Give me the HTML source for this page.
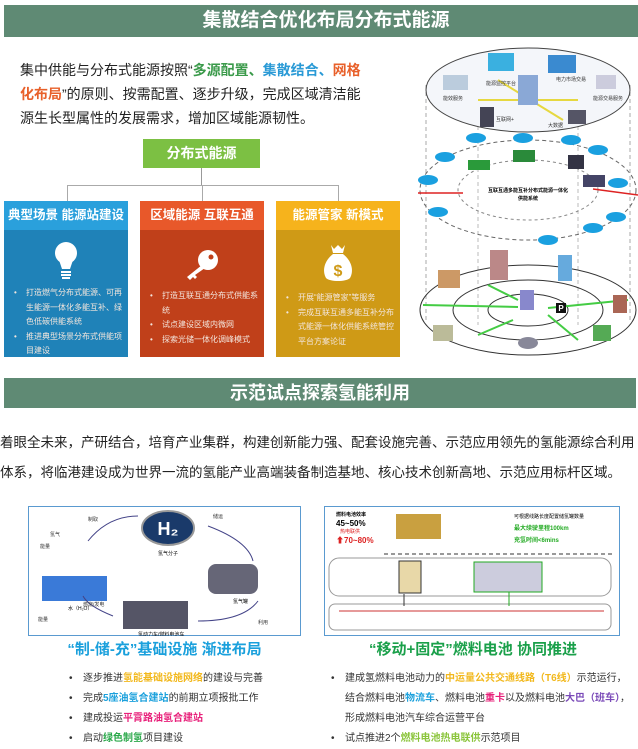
<!DOCTYPE html>
<html><head><meta charset="utf-8">
<style>
*{margin:0;padding:0;box-sizing:border-box}
body{width:638px;height:746px;background:#fff;position:relative;overflow:hidden;font-family:"Liberation Sans","Noto Sans CJK SC",sans-serif;color:#222}
.abs{position:absolute}
.bar{background:#5f8a74;color:#fff;font-weight:bold;text-align:center}
.card{position:absolute;top:201px;width:124px;height:156px;overflow:hidden}
.card .h{height:29px;color:#fff;font-weight:bold;font-size:12.5px;text-align:center;line-height:29px;white-space:nowrap}
.card ul{list-style:none;color:#f3e6dd;font-size:8px;line-height:14.5px;position:absolute;left:8px;right:4px}
.card li{position:relative;padding-left:14px}
.card li:before{content:"•";position:absolute;left:2px}
.bl{list-style:none;font-size:10px;color:#333;position:absolute}
.bl li{position:relative;padding-left:14px;line-height:20px}
.bl li:before{content:"•";position:absolute;left:0}
</style></head><body>

<div class="abs bar" style="left:4px;top:5px;width:634px;height:32px;font-size:19px;line-height:32px;padding-left:10px">集散结合优化布局分布式能源</div>

<div class="abs" style="left:20px;top:58px;width:342px;font-size:14px;line-height:24px;color:#222">集中供能与分布式能源按照“<b style="color:#3a9a4a">多源配置、</b><b style="color:#2a9ad6">集散结合、</b><b style="color:#e8602a">网格化布局</b>”的原则、按需配置、逐步升级，完成区域清洁能源生长型属性的发展需求，增加区域能源韧性。</div>

<div class="abs" style="left:143px;top:139px;width:117px;height:29px;background:#7cc043;color:#fff;font-weight:bold;font-size:14px;text-align:center;line-height:29px">分布式能源</div>
<div class="abs" style="left:201px;top:168px;width:1px;height:17px;background:#999"></div>
<div class="abs" style="left:67px;top:185px;width:272px;height:1px;background:#aaa"></div>
<div class="abs" style="left:67px;top:185px;width:1px;height:16px;background:#aaa"></div>
<div class="abs" style="left:202px;top:185px;width:1px;height:16px;background:#aaa"></div>
<div class="abs" style="left:338px;top:185px;width:1px;height:16px;background:#aaa"></div>

<div class="card" style="left:4px;background:#1f82b8">
 <div class="h" style="background:#2aa0dc">典型场景 能源站建设</div>
 <svg class="abs" style="left:50px;top:40px" width="24" height="42" viewBox="0 0 24 42"><circle cx="12" cy="12" r="11" fill="#fff"/><path d="M5 19 L8 28 H16 L19 19Z" fill="#fff"/><rect x="7" y="30" width="10" height="2" fill="#fff"/><rect x="7" y="33" width="10" height="2" fill="#fff"/><rect x="8" y="36" width="8" height="2" fill="#fff"/></svg>
 <ul style="top:85px"><li>打造燃气分布式能源、可再生能源一体化多能互补、绿色低碳供能系统</li><li>推进典型场景分布式供能项目建设</li></ul>
</div>
<div class="card" style="left:140px;background:#c0401a">
 <div class="h" style="background:#e8582a">区域能源 互联互通</div>
 <svg class="abs" style="left:44px;top:48px" width="36" height="32" viewBox="0 0 36 32"><circle cx="24" cy="11" r="10" fill="#fff"/><circle cx="27" cy="8" r="2.5" fill="#c0401a"/><path d="M18 16 L3 28 L6 31 L9 28 L11 30 L13 28 L11 26 L21 19Z" fill="#fff"/></svg>
 <ul style="top:88px"><li>打造互联互通分布式供能系统</li><li>试点建设区域内微网</li><li>探索光储一体化调峰模式</li></ul>
</div>
<div class="card" style="left:276px;background:#cf9a16">
 <div class="h" style="background:#f6b31c">能源管家 新模式</div>
 <svg class="abs" style="left:46px;top:42px" width="32" height="40" viewBox="0 0 32 40"><path d="M9 2 L12 6 L16 2 L20 6 L23 2 L21 10 H11Z" fill="#fff"/><path d="M11 11 H21 C30 18 32 28 28 35 C24 39 8 39 4 35 C0 28 2 18 11 11Z" fill="#fff"/><text x="16" y="33" text-anchor="middle" font-size="16" font-weight="bold" fill="#cf9a16">$</text></svg>
 <ul style="top:90px"><li>开展“能源管家”等服务</li><li>完成互联互通多能互补分布式能源一体化供能系统管控平台方案论证</li></ul>
</div>

<svg class="abs" style="left:418px;top:45px" width="220" height="315" viewBox="0 0 220 315">
 <line x1="8" y1="40" x2="8" y2="275" stroke="#aaa" stroke-dasharray="4 3"/>
 <line x1="212" y1="40" x2="212" y2="275" stroke="#aaa" stroke-dasharray="4 3"/>
 <line x1="60" y1="60" x2="60" y2="280" stroke="#bbb" stroke-dasharray="4 3"/>
 <line x1="160" y1="60" x2="160" y2="280" stroke="#bbb" stroke-dasharray="4 3"/>
 <ellipse cx="110" cy="45" rx="102" ry="42" fill="#f4f6fa" stroke="#444"/>
 <line x1="60" y1="55" x2="160" y2="55" stroke="#e6d840" stroke-width="2"/>
 <line x1="80" y1="35" x2="145" y2="75" stroke="#e6d840" stroke-width="2"/>
 <rect x="100" y="30" width="20" height="30" fill="#8aa8d6"/>
 <rect x="25" y="30" width="25" height="15" fill="#bcd"/><rect x="70" y="8" width="26" height="18" fill="#3ab0e0"/>
 <rect x="130" y="10" width="28" height="18" fill="#3a8ad0"/><rect x="62" y="62" width="14" height="20" fill="#445"/>
 <rect x="178" y="30" width="20" height="14" fill="#ccd"/><rect x="150" y="65" width="18" height="14" fill="#556"/>
 <text font-size="5" fill="#333"><tspan x="68" y="40">能源监控平台</tspan><tspan x="138" y="36">电力市场交易</tspan><tspan x="25" y="55">能效服务</tspan><tspan x="175" y="55">能源交易服务</tspan><tspan x="78" y="76">互联网+</tspan><tspan x="130" y="82">大数据</tspan></text>
 <ellipse cx="110" cy="145" rx="108" ry="50" fill="none" stroke="#666" stroke-dasharray="4 3"/>
 <ellipse cx="110" cy="145" rx="70" ry="30" fill="none" stroke="#888" stroke-dasharray="3 3"/>
 <line x1="0" y1="148" x2="45" y2="148" stroke="#d22" stroke-width="1.5"/><line x1="175" y1="144" x2="220" y2="150" stroke="#d22" stroke-width="1.5"/>
 <rect x="50" y="115" width="22" height="10" fill="#2a9a3a"/><rect x="95" y="105" width="22" height="12" fill="#2a8a3a"/><rect x="150" y="110" width="16" height="14" fill="#334"/><rect x="165" y="130" width="22" height="12" fill="#446"/>
 <g fill="#1aa0e0"><ellipse cx="27" cy="112" rx="10" ry="5"/><ellipse cx="58" cy="93" rx="10" ry="5"/><ellipse cx="105" cy="93" rx="10" ry="5"/><ellipse cx="153" cy="95" rx="10" ry="5"/><ellipse cx="180" cy="105" rx="10" ry="5"/><ellipse cx="10" cy="135" rx="10" ry="5"/><ellipse cx="200" cy="138" rx="10" ry="5"/><ellipse cx="20" cy="167" rx="10" ry="5"/><ellipse cx="198" cy="172" rx="10" ry="5"/><ellipse cx="130" cy="195" rx="10" ry="5"/><ellipse cx="175" cy="183" rx="10" ry="5"/></g>
 <text x="110" y="147" font-size="5" text-anchor="middle" font-weight="bold">互联互通多能互补分布式能源一体化</text>
 <text x="110" y="155" font-size="5" text-anchor="middle" font-weight="bold">供能系统</text>
 <ellipse cx="110" cy="265" rx="108" ry="45" fill="none" stroke="#333"/>
 <ellipse cx="110" cy="265" rx="75" ry="30" fill="none" stroke="#333"/>
 <ellipse cx="110" cy="265" rx="40" ry="16" fill="none" stroke="#333"/>
 <line x1="5" y1="260" x2="100" y2="262" stroke="#4c4" stroke-width="2"/><line x1="130" y1="263" x2="210" y2="255" stroke="#4c4" stroke-width="2"/>
 <line x1="70" y1="240" x2="100" y2="255" stroke="#4c4" stroke-width="2"/><line x1="130" y1="270" x2="160" y2="295" stroke="#4c4" stroke-width="2"/><line x1="60" y1="290" x2="95" y2="275" stroke="#4c4" stroke-width="2"/>
 <rect x="72" y="205" width="18" height="30" fill="#b88"/><rect x="140" y="210" width="14" height="26" fill="#6ad"/><rect x="20" y="225" width="22" height="18" fill="#c96"/><rect x="195" y="250" width="14" height="18" fill="#a65"/>
 <rect x="102" y="245" width="14" height="20" fill="#88c"/><rect x="138" y="258" width="10" height="10" fill="#111"/><text x="143" y="266" font-size="8" fill="#fff" text-anchor="middle" font-weight="bold">P</text>
 <rect x="15" y="280" width="20" height="16" fill="#bb9"/><rect x="175" y="280" width="18" height="16" fill="#5a5"/><ellipse cx="110" cy="298" rx="10" ry="6" fill="#889"/>
</svg>

<div class="abs bar" style="left:4px;top:378px;width:632px;height:30px;font-size:18px;line-height:30px">示范试点探索氢能利用</div>
<div class="abs" style="left:0;top:428px;width:638px;font-size:13.5px;line-height:30px;color:#222;white-space:nowrap">着眼全未来，产研结合，培育产业集群，构建创新能力强、配套设施完善、示范应用领先的氢能源综合利用<br>体系，将临港建设成为世界一流的氢能产业高端装备制造基地、核心技术创新高地、示范应用标杆区域。</div>

<svg class="abs" style="left:28px;top:506px" width="273" height="130" viewBox="0 0 273 130">
 <rect x="0.5" y="0.5" width="272" height="129" fill="#fff" stroke="#5a9ad0"/>
 <ellipse cx="140" cy="22" rx="26" ry="17" fill="#1a3a6a" stroke="#999" stroke-width="2"/><text x="140" y="29" font-size="18" font-weight="bold" fill="#fff" text-anchor="middle">H₂</text>
 <text x="140" y="49" font-size="5" text-anchor="middle">氢气分子</text>
 <rect x="14" y="70" width="65" height="25" fill="#3a7ad8"/><text x="40" y="104" font-size="5">水（H₂O）</text>
 <rect x="180" y="58" width="50" height="30" fill="#667" rx="8"/><text x="205" y="97" font-size="5">氢气罐</text>
 <rect x="95" y="95" width="65" height="28" fill="#556"/><text x="110" y="130" font-size="5">氢动力车/燃料电池车</text>
 <path d="M60 35 Q80 10 110 10" fill="none" stroke="#448" /><path d="M180 20 Q220 35 225 55" fill="none" stroke="#448"/><path d="M230 95 Q215 115 170 115" fill="none" stroke="#448"/><path d="M85 110 Q60 100 55 90" fill="none" stroke="#448"/>
 <text font-size="5" fill="#333"><tspan x="60" y="15">制取</tspan><tspan x="185" y="12">储运</tspan><tspan x="230" y="118">利用</tspan><tspan x="22" y="30">氢气</tspan><tspan x="12" y="42">能量</tspan><tspan x="10" y="115">能量</tspan><tspan x="55" y="100">燃烧/发电</tspan></text>
</svg>
<svg class="abs" style="left:324px;top:506px" width="296" height="130" viewBox="0 0 296 130">
 <rect x="0.5" y="0.5" width="295" height="129" fill="#fff" stroke="#5a9ad0"/>
 <text x="12" y="10" font-size="5" font-weight="bold">燃料电池效率</text><text x="12" y="20" font-size="8" font-weight="bold">45~50%</text>
 <text x="16" y="27" font-size="5" fill="#d22">热电联供</text><text x="12" y="37" font-size="8" font-weight="bold" fill="#d22">⬆70~80%</text>
 <rect x="72" y="8" width="45" height="25" fill="#c9a040"/>
 <text x="190" y="12" font-size="5">可根据线路长度配置储氢罐数量</text><text x="190" y="24" font-size="6" fill="#2a2" font-weight="bold">最大续驶里程100km</text><text x="190" y="36" font-size="6" fill="#2a2" font-weight="bold">充氢时间&lt;6mins</text>
 <line x1="60" y1="48" x2="290" y2="48" stroke="#333" stroke-dasharray="4 3"/>
 <rect x="5" y="52" width="282" height="38" fill="none" stroke="#999" rx="10"/>
 <rect x="75" y="55" width="22" height="32" fill="#e8d8a8" stroke="#333"/>
 <rect x="150" y="56" width="68" height="30" fill="#ccd" stroke="#2a2"/>
 <rect x="5" y="98" width="282" height="26" fill="none" stroke="#999" rx="6"/>
 <line x1="15" y1="105" x2="280" y2="105" stroke="#c33"/><line x1="80" y1="88" x2="80" y2="100" stroke="#333"/><line x1="185" y1="86" x2="185" y2="100" stroke="#2a2"/>
</svg>

<div class="abs" style="left:28px;top:638px;width:273px;text-align:center;font-size:15px;font-weight:bold;color:#1aa0dc">“制-储-充”基础设施 渐进布局</div>
<div class="abs" style="left:325px;top:638px;width:296px;text-align:center;font-size:15px;font-weight:bold;color:#1aa04a">“移动+固定”燃料电池 协同推进</div>

<ul class="bl" style="left:69px;top:669px"><li>逐步推进<b style="color:#f2b81c">氢能基础设施网络</b>的建设与完善</li><li>完成<b style="color:#1aa0dc">5座油氢合建站</b>的前期立项报批工作</li><li>建成投运<b style="color:#e8207a">平霄路油氢合建站</b></li><li>启动<b style="color:#2aa84a">绿色制氢</b>项目建设</li></ul>
<ul class="bl" style="left:331px;top:669px;width:300px"><li>建成氢燃料电池动力的<b style="color:#f2b81c">中运量公共交通线路（T6线）</b>示范运行，结合燃料电池<b style="color:#1aa0dc">物流车</b>、燃料电池<b style="color:#e8207a">重卡</b>以及燃料电池<b style="color:#7a4ab8">大巴（班车）</b>，形成燃料电池汽车综合运营平台</li><li>试点推进2个<b style="color:#8ac43a">燃料电池热电联供</b>示范项目</li></ul>
</body></html>
